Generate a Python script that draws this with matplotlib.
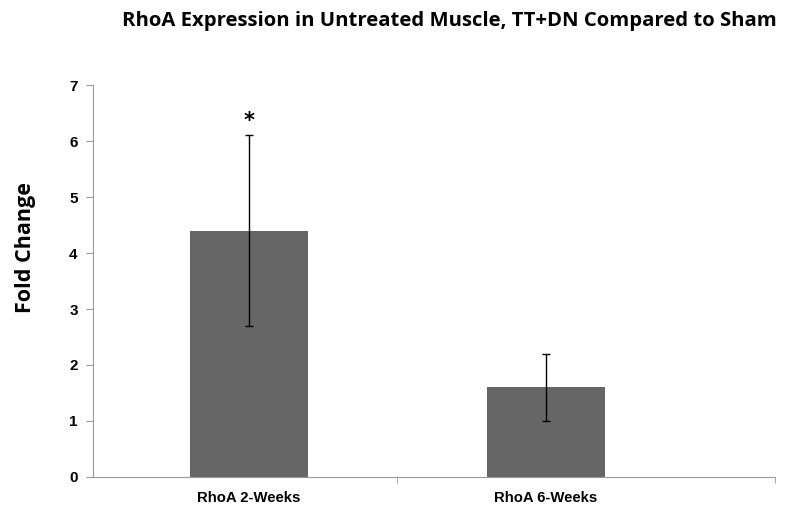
import matplotlib.pyplot as plt

categories = ['RhoA 2-Weeks', 'RhoA 6-Weeks']
fold_change = [4.4, 1.6]
err_low = [1.7, 0.6]
err_high = [1.7, 0.6]
y_ticks = [0, 1, 2, 3, 4, 5, 6, 7]

fig = plt.figure(figsize=(7.85, 5.14), dpi=100)
ax = fig.add_axes([0.1185, 0.072, 0.8685, 0.7626])

pos = list(range(len(categories)))
ax.bar(pos, fold_change, width=0.397, color='#666666', zorder=2)
ax.errorbar(pos, fold_change, yerr=[err_low, err_high], fmt='none',
            ecolor='black', elinewidth=1, capsize=3, capthick=1, zorder=3)
ax.text(pos[0], fold_change[0] + err_high[0] + 0.08, '*', ha='center', va='bottom',
        fontsize=15, fontweight='bold')

ax.set_xlim(-0.525, 1.771)
ax.set_ylim(0, 7)
ax.set_yticks(y_ticks)
ax.set_xticks(pos)
ax.set_xticklabels(categories, fontfamily='Liberation Sans', fontweight='bold', fontsize=10.7)
ax.set_xticks([0.5, 1.771], minor=True)
ax.tick_params(axis='x', which='major', length=0, pad=10)
ax.tick_params(axis='x', which='minor', length=4, color='#999999')
ax.tick_params(axis='y', length=5, color='#999999', pad=6)
for lab in ax.get_yticklabels():
    lab.set_fontfamily('Liberation Sans')
    lab.set_fontweight('bold')
    lab.set_fontsize(11)

for s in ['top', 'right']:
    ax.spines[s].set_visible(False)
for s in ['left', 'bottom']:
    ax.spines[s].set_color('#999999')

fig.text(0.033, 1 - 248 / 514, 'Fold Change', rotation=90, ha='center', va='center',
         fontfamily='Open Sans', fontweight='bold', fontsize=15.5)
fig.text(0.572, 0.96, 'RhoA Expression in Untreated Muscle, TT+DN Compared to Sham',
         ha='center', va='center', fontfamily='Open Sans', fontweight='bold', fontsize=14.6)

fig.savefig('out.png', dpi=100)
